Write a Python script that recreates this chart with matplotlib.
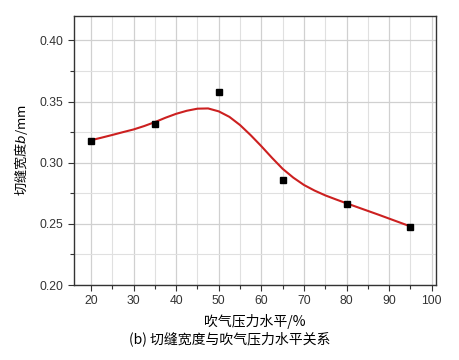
import numpy as np
import matplotlib
matplotlib.use("Agg")
import matplotlib.pyplot as plt
from matplotlib.ticker import MultipleLocator

plt.rcParams['font.family'] = ['Liberation Sans', 'Noto Sans CJK SC', 'DejaVu Sans']

# measured points
pressure = [20, 35, 50, 65, 80, 95]
width = [0.318, 0.332, 0.358, 0.2856, 0.2665, 0.2474]

# fitted curve
curve_x = [20, 22.5, 25, 27.5, 30, 32.5, 35, 37.5, 40, 42.5, 45, 47.5, 50,
           52.5, 55, 57.5, 60, 62.5, 65, 67.5, 70, 72.5, 75, 77.5, 80,
           82.5, 85, 87.5, 90, 92.5, 95]
curve_y = [0.3184, 0.3205, 0.3227, 0.3250, 0.3272, 0.3300, 0.3332, 0.3368,
           0.3400, 0.3425, 0.3442, 0.3444, 0.3420, 0.3375, 0.3308, 0.3225,
           0.3135, 0.3040, 0.2950, 0.2878, 0.2818, 0.2772, 0.2733, 0.2700,
           0.2668, 0.2637, 0.2606, 0.2575, 0.2543, 0.2511, 0.2479]

fig = plt.figure(figsize=(4.59, 3.6), dpi=100)
ax = fig.add_axes([0.161, 0.2083, 0.789, 0.7473])

ax.plot(curve_x, curve_y, color='#cc2020', lw=1.5, zorder=3)
ax.plot(pressure, width, 's', color='black', ms=5, zorder=4)

ax.set_xlim(16, 101)
ax.set_ylim(0.20, 0.42)
ax.xaxis.set_major_locator(MultipleLocator(10))
ax.xaxis.set_minor_locator(MultipleLocator(5))
ax.yaxis.set_major_locator(MultipleLocator(0.05))
ax.yaxis.set_minor_locator(MultipleLocator(0.025))
ax.set_yticks([0.20, 0.25, 0.30, 0.35, 0.40])
ax.set_yticklabels(['0.20', '0.25', '0.30', '0.35', '0.40'])

ax.grid(which='major', color='#d0d0d0', lw=0.9)
ax.grid(which='minor', color='#e0e0e0', lw=0.8)
ax.set_axisbelow(True)

for s in ax.spines.values():
    s.set_color('#333333')
    s.set_linewidth(1.0)
ax.tick_params(which='both', direction='out', colors='#333333', labelcolor='#333333',
               labelsize=8.7, width=0.8)
ax.tick_params(which='major', length=4)
ax.tick_params(which='minor', length=3)

ax.set_xlabel('吹气压力水平/%', family=['Noto Sans CJK SC'], fontsize=10, labelpad=5)
ax.set_ylabel('切缝宽度$b$/mm', family=['Noto Sans CJK SC'], fontsize=9.5, labelpad=7)

fig.text(0.50, 0.06, '(b) 切缝宽度与吹气压力水平关系', family=['Noto Sans CJK SC'],
         fontsize=10, ha='center', va='center')

fig.savefig('out.png', dpi=100)
